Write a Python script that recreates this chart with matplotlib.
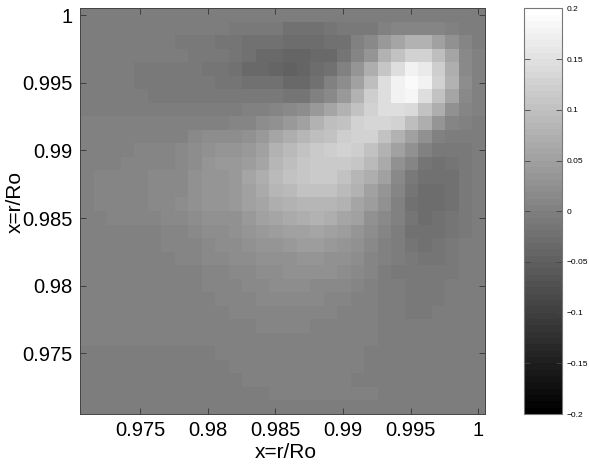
import numpy as np
import matplotlib
matplotlib.use("Agg")
import matplotlib.pyplot as plt

plt.rcParams['font.family'] = ['Liberation Sans', 'DejaVu Sans']

# cell values in thousandths, top row is x=r/Ro = 1
rows = [
    [-3,-3,-3,-3,-3,-3,-3,-3,-3,-3,-3,-5,-5,-5,-5,-6,-6,-6,-6,-6,-6,-6,-5,-4,-4,-4,-3,-3,-2,-2],
    [-3,-3,-3,-3,-3,-3,-3,-3,-3,-3,-3,-8,-8,-8,-12,-20,-20,-20,-15,-12,-12,-8,5,8,10,10,8,5,-2,-2],
    [-3,-3,-3,-3,-3,-3,-3,-8,-8,-8,-15,-15,-22,-22,-22,-28,-30,-28,-22,-20,0,15,40,60,80,78,50,30,10,-2],
    [-3,-3,-3,-3,-3,-6,-6,-6,-12,-12,-12,-18,-22,-33,-33,-38,-40,-33,-33,-15,10,35,80,105,130,130,95,60,15,0],
    [-3,-3,-3,-3,-8,-8,-8,-12,-12,-17,-17,-22,-32,-32,-40,-45,-40,-30,-22,5,35,70,110,145,175,165,120,70,18,0],
    [-3,-3,-3,-3,-8,-8,-8,-10,-10,-10,-17,-17,-22,-22,-22,-32,-32,-25,5,20,55,95,145,180,190,175,125,75,20,0],
    [-3,-3,-3,-3,-3,-8,-8,-8,-8,-8,-12,-12,-12,-12,-10,-15,-15,0,15,40,80,120,150,180,185,150,100,60,18,0],
    [-3,-3,-3,-3,-3,-3,-3,-3,-3,-3,-3,-3,0,5,12,18,22,38,60,75,100,130,145,150,140,100,70,30,12,0],
    [0,0,0,0,0,0,0,0,0,6,6,10,12,20,30,42,52,75,95,105,130,135,135,125,95,70,35,10,0,-3],
    [2,2,2,2,2,2,6,6,14,20,20,24,28,42,60,72,85,95,105,120,130,130,100,80,50,30,5,-3,-5,-5],
    [3,3,3,3,8,8,8,14,20,28,32,35,42,55,78,88,100,115,120,125,120,100,75,50,25,5,-12,-12,-10,-5],
    [3,3,3,8,8,8,10,14,24,32,38,40,48,62,85,95,108,115,115,115,110,90,65,30,8,-15,-20,-18,-12,-5],
    [3,12,12,12,12,16,16,18,30,34,36,40,58,70,90,100,108,118,115,105,85,70,50,15,-8,-20,-25,-20,-12,-5],
    [3,12,12,12,12,16,16,18,30,34,36,40,55,68,85,92,105,105,100,90,75,55,35,8,-15,-28,-28,-22,-12,-5],
    [3,12,12,12,12,16,16,20,30,34,36,42,50,60,70,75,85,85,85,75,60,45,25,0,-20,-30,-28,-20,-12,-5],
    [3,3,10,10,10,12,14,18,20,25,30,30,40,50,58,68,70,75,70,60,55,30,15,0,-15,-30,-25,-15,-8,-4],
    [2,2,2,5,5,5,10,12,15,20,22,28,32,38,45,50,55,60,50,45,35,20,10,-5,-20,-22,-22,-15,-8,-3],
    [0,0,0,5,5,5,8,8,12,16,20,22,28,32,35,40,48,48,42,35,28,15,5,-5,-18,-22,-18,-12,-6,-3],
    [0,0,0,0,5,5,5,8,12,14,16,20,22,25,28,30,35,35,30,28,22,12,0,-5,-12,-18,-15,-10,-6,-3],
    [0,0,0,0,5,5,5,5,5,10,12,15,18,20,22,25,28,30,25,22,15,8,-2,-8,-10,-12,-12,-10,-5,-3],
    [0,0,0,0,0,3,3,5,5,8,10,12,15,18,20,22,22,18,18,14,10,5,-3,-3,-8,-12,-8,-5,-3,-2],
    [0,0,0,0,0,0,3,3,5,6,8,10,12,14,15,15,15,14,12,10,6,0,-3,-3,-8,-8,-8,-3,-3,-2],
    [0,0,0,0,0,0,0,2,3,5,6,8,8,10,12,12,10,10,8,6,3,0,-3,-3,-8,-8,-6,-5,-3,-2],
    [0,0,0,0,0,0,0,0,2,3,5,5,6,8,8,8,8,6,6,3,3,0,-2,-3,-3,-3,-3,-2,-2,-2],
    [0,0,0,0,0,0,0,0,0,2,2,3,3,5,5,5,5,5,3,2,2,0,-3,-5,-5,-5,-5,-3,-2,-2],
    [-1,-1,-1,-1,-1,-1,-1,-1,-1,-1,1,1,3,3,3,3,3,3,2,2,0,-1,-3,-3,-5,-5,-3,-2,-2,-2],
    [-1,-1,-1,-1,-1,-1,-1,-1,-1,-1,-1,1,1,1,2,2,2,2,1,1,0,-1,-3,-3,-3,-3,-3,-3,-3,-3],
    [-1,-1,-1,-1,-1,-1,-1,-1,-1,-1,-1,-1,0,0,0,1,1,1,1,0,-1,-1,-3,-3,-3,-3,-3,-3,-3,-3],
    [-1,-1,-1,-1,-1,-1,-1,-1,-1,-1,-1,-1,-1,-1,0,0,0,0,0,0,0,0,-2,-2,-2,-2,-2,-2,-2,-2],
    [-1,-1,-1,-1,-1,-1,-1,-1,-1,-1,-1,-1,-1,-1,-1,-1,-1,-1,-1,-1,-1,-1,-2,-2,-2,-2,-2,-2,-2,-2],
]
x_lim = [0.9705, 1.0005]
ticks = [0.975, 0.98, 0.985, 0.99, 0.995, 1]
tick_labels = ['0.975', '0.98', '0.985', '0.99', '0.995', '1']
cbar_ticks = [-0.2, -0.15, -0.1, -0.05, 0, 0.05, 0.1, 0.15, 0.2]
cbar_labels = ['\u22120.2', '\u22120.15', '\u22120.1', '\u22120.05', '0', '0.05', '0.1', '0.15', '0.2']

W, H = 589, 465
fig = plt.figure(figsize=(W/100, H/100), dpi=100)
ax = fig.add_axes([79.5/W, 1-414/H, 405.5/W, 405.5/H])
cax = fig.add_axes([524/W, 1-414/H, 38/W, 405.5/H])

z = np.array(rows) / 1000.0
im = ax.imshow(z, cmap=plt.get_cmap('gray', 64), vmin=-0.2, vmax=0.2,
               extent=[x_lim[0], x_lim[1], x_lim[0], x_lim[1]],
               origin='upper', interpolation='nearest', aspect='auto')
ax.set_xticks(ticks)
ax.set_xticklabels(tick_labels)
ax.set_yticks(ticks)
ax.set_yticklabels(tick_labels)
ax.tick_params(direction='in', length=4, width=0.6, color='#333333',
               labelsize=14.5, top=True, right=True, pad=5)
ax.set_xlabel('x=r/Ro', fontsize=15, va='center')
ax.set_ylabel('x=r/Ro', fontsize=15, va='center')
ax.xaxis.set_label_coords(0.509, -0.096)
ax.yaxis.set_label_coords(-0.159, 0.523)
for s in ax.spines.values():
    s.set_linewidth(0.7)
    s.set_color('#444444')

cb = fig.colorbar(im, cax=cax)
cb.set_ticks(cbar_ticks)
cb.set_ticklabels(cbar_labels)
cb.ax.tick_params(direction='in', length=4, width=0.6, color='#444444',
                  labelsize=6, left=True, right=True, pad=3)
cb.outline.set_linewidth(0.8)
cb.outline.set_edgecolor('#777777')

fig.savefig('out.png', dpi=100)
